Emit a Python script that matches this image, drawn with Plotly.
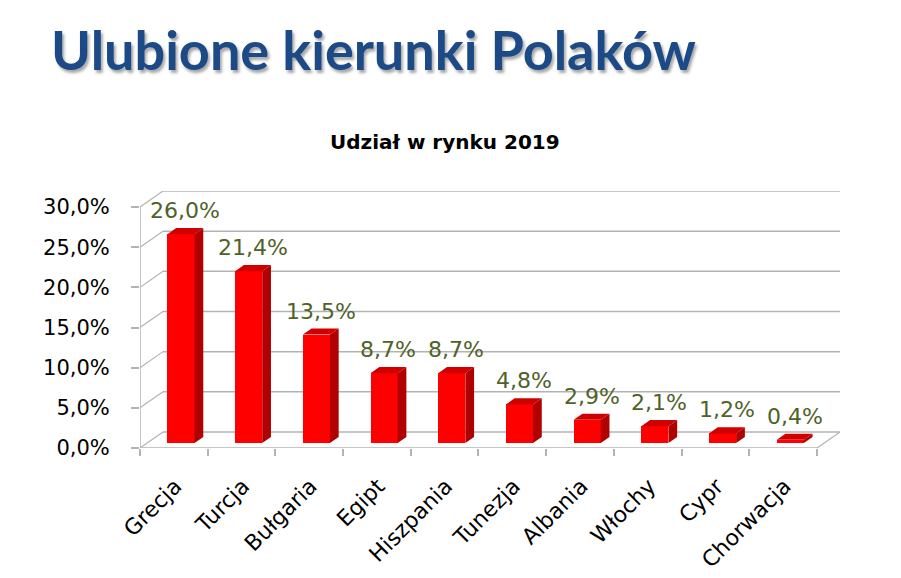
import plotly.graph_objects as go

# dane
kraje = ['Grecja', 'Turcja', 'Bułgaria', 'Egipt', 'Hiszpania',
         'Tunezja', 'Albania', 'Włochy', 'Cypr', 'Chorwacja']
udzial = [26.0, 21.4, 13.5, 8.7, 8.7, 4.8, 2.9, 2.1, 1.2, 0.4]
ytick_vals = [0, 5, 10, 15, 20, 25, 30]
ytick_text = ['0,0%', '5,0%', '10,0%', '15,0%', '20,0%', '25,0%', '30,0%']

# "3D" perspektywa (glebokosc podlogi w jednostkach osi)
DX, DY = 0.34, 2.0      # przesuniecie tylnej sciany
F0, F1 = 0.31, 0.69     # przod / tyl slupka w glebi
BW = 0.4                # szerokosc slupka
GRID = '#b3b3b3'

n = len(kraje)
xc = [i + 0.5 + DX * F0 for i in range(n)]
base = DY * F0
ddx, ddy = DX * (F1 - F0), DY * (F1 - F0)

# sciana boczna i gora slupkow
top_x, top_y, side_x, side_y = [], [], [], []
for c, v in zip(xc, udzial):
    xl, xr, t = c - BW / 2, c + BW / 2, base + v
    top_x += [xl, xr, xr + ddx, xl + ddx, xl, None]
    top_y += [t, t, t + ddy, t + ddy, t, None]
    side_x += [xr, xr, xr + ddx, xr + ddx, xr, None]
    side_y += [base, t, t + ddy, base + ddy, base, None]

fig = go.Figure()
fig.add_trace(go.Bar(x=xc, y=udzial, base=base, width=BW,
                     marker=dict(color='#ff0000', line=dict(width=0))))
fig.add_trace(go.Scatter(x=side_x, y=side_y, mode='lines', fill='toself',
                         fillcolor='#b00000', line=dict(width=0)))
fig.add_trace(go.Scatter(x=top_x, y=top_y, mode='lines', fill='toself',
                         fillcolor='#d00000', line=dict(width=0)))

shapes = []
# linie siatki na tylnej scianie + skosy na bocznej
for v in ytick_vals:
    shapes.append(dict(type='line', xref='x', yref='y', x0=DX, x1=n + DX,
                       y0=v + DY, y1=v + DY, line=dict(color=GRID, width=1.5),
                       layer='below'))
    shapes.append(dict(type='line', xref='x', yref='y', x0=0, x1=DX,
                       y0=v, y1=v + DY, line=dict(color=GRID, width=1.2),
                       layer='below'))
# przednia os Y i podloga
shapes.append(dict(type='line', xref='x', yref='y', x0=0, x1=0, y0=0, y1=ytick_vals[-1],
                   line=dict(color=GRID, width=1.5), layer='below'))
shapes.append(dict(type='line', xref='x', yref='y', x0=0, x1=n, y0=0, y1=0,
                   line=dict(color=GRID, width=1.5), layer='below'))
shapes.append(dict(type='line', xref='x', yref='y', x0=n, x1=n + DX, y0=0, y1=DY,
                   line=dict(color=GRID, width=1.2), layer='below'))

annotations = []
for c, v in zip(xc, udzial):
    annotations.append(dict(x=c + ddx / 2, y=base + v + ddy, xref='x', yref='y',
                            text=f'{v:.1f}'.replace('.', ',') + '%', showarrow=False,
                            yanchor='bottom', yshift=3,
                            font=dict(family='DejaVu Sans', size=22, color='#4f6228')))
annotations.append(dict(x=-0.13, y=1.55, xref='paper', yref='paper',
                        xanchor='left', yanchor='middle', showarrow=False,
                        text='<b>Ulubione kierunki Polaków</b>',
                        font=dict(family='Lato', size=54, color='#1c4a86',
                                  shadow='2px 3px 3px rgba(0,0,0,0.35)')))
annotations.append(dict(x=0.436, y=1.19, xref='paper', yref='paper',
                        xanchor='center', yanchor='middle', showarrow=False,
                        text='<b>Udział w rynku 2019</b>',
                        font=dict(family='DejaVu Sans', size=20, color='black')))

fig.update_layout(
    width=901, height=578,
    margin=dict(l=132, r=69, t=183, b=138),
    plot_bgcolor='white', paper_bgcolor='white',
    showlegend=False,
    bargap=0,
    shapes=shapes,
    annotations=annotations,
    xaxis=dict(range=[0, n + DX], showgrid=False, zeroline=False, showline=False,
               tickvals=[i + 0.52 for i in range(n)], ticktext=kraje, tickangle=-45,
               ticks='', tickfont=dict(family='DejaVu Sans', size=22, color='black'),
               minor=dict(ticks='outside', tick0=0, dtick=1, ticklen=7,
                          tickcolor=GRID, tickwidth=1.5, showgrid=False),
               ticklabelstandoff=20),
    yaxis=dict(range=[0, ytick_vals[-1] + DY], showgrid=False, zeroline=False,
               showline=False, tickvals=ytick_vals, ticktext=ytick_text,
               ticks='outside', ticklen=8, tickcolor=GRID, tickwidth=1.5,
               ticklabelstandoff=17,
               tickfont=dict(family='DejaVu Sans', size=21, color='black')),
)

fig.write_html('out.html')
